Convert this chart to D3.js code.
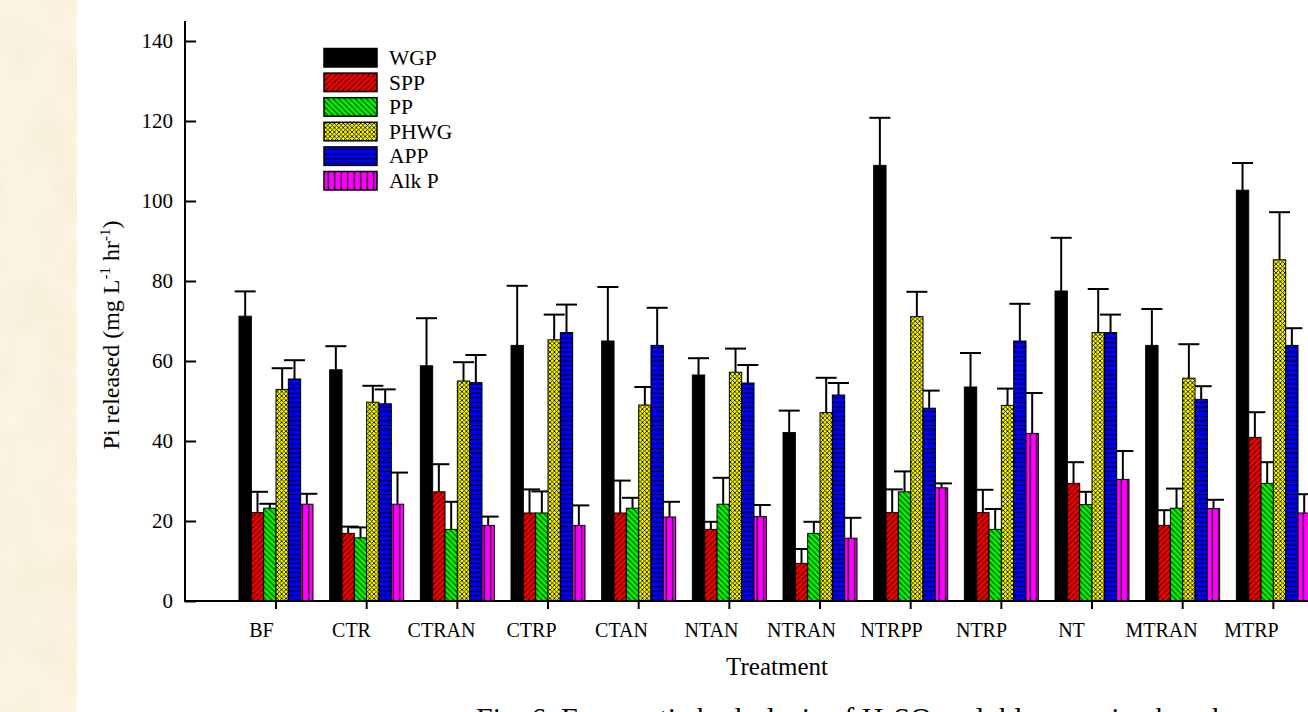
<!DOCTYPE html>
<html>
<head>
<meta charset="utf-8">
<script src="https://cdn.jsdelivr.net/npm/d3@7/dist/d3.min.js"></script>
<style>
  html, body { margin: 0; padding: 0; background: #ffffff; }
  svg { display: block; }
  text { font-family: "Liberation Serif", "Times New Roman", Times, serif; fill: #000; }
</style>
</head>
<body>
<svg id="chart" width="1308" height="712"></svg>
<script>
// Treatments on the x axis
const treatments = ["BF", "CTR", "CTRAN", "CTRP", "CTAN", "NTAN", "NTRAN", "NTRPP", "NTRP", "NT", "MTRAN", "MTRP"];

// Enzyme series
const seriesNames = ["WGP", "SPP", "PP", "PHWG", "APP", "Alk P"];

// Mean Pi released per treatment (mg L-1 hr-1)
const wgp    = [71.2, 57.8, 58.8, 63.9, 65.0, 56.5, 42.1, 108.9, 53.5, 77.5, 63.9, 102.7];
const spp    = [22.1, 16.9, 27.3, 22.0, 22.0, 17.9,  9.4,  22.1, 22.1, 29.4, 18.9,  40.9];
const pp     = [23.2, 15.8, 17.9, 22.0, 23.2, 24.2, 16.9,  27.3, 17.9, 24.1, 23.2,  29.4];
const phwg   = [52.9, 49.7, 55.0, 65.3, 49.0, 57.2, 47.1,  71.1, 48.9, 67.1, 55.7,  85.3];
const app    = [55.5, 49.3, 54.6, 67.1, 63.9, 54.5, 51.5,  48.2, 65.0, 67.1, 50.4,  63.9];
const alkP   = [24.2, 24.2, 18.9, 18.9, 21.0, 21.1, 15.7,  28.3, 41.9, 30.4, 23.1,  22.0];

// Standard errors
const wgpErr  = [6.2, 5.9, 11.9, 14.9, 13.5, 4.2, 5.5, 11.9, 8.5, 13.3, 9.1, 6.8];
const sppErr  = [5.2, 1.7,  6.9,  5.9,  8.1, 1.9, 3.6,  5.8, 5.7,  5.3, 3.8, 6.3];
const ppErr   = [1.1, 2.6,  6.9,  5.4,  2.6, 6.6, 2.9,  5.1, 5.1,  3.2, 4.9, 5.3];
const phwgErr = [5.3, 4.1,  4.7,  6.3,  4.5, 5.9, 8.7,  6.2, 4.2, 10.9, 8.5, 11.9];
const appErr  = [4.7, 3.6,  6.9,  7.0,  9.4, 4.5, 3.0,  4.4, 9.3,  4.5, 3.3, 4.3];
const alkPErr = [2.6, 7.9,  2.2,  5.0,  3.8, 2.9, 5.1,  1.1, 10.1, 7.1, 2.2, 4.7];

// Y axis ticks
const yTicks = [0, 20, 40, 60, 80, 100, 120, 140];

const seriesValues = [wgp, spp, pp, phwg, app, alkP];
const seriesErrors = [wgpErr, sppErr, ppErr, phwgErr, appErr, alkPErr];
const seriesFill = ["#000000", "url(#patSPP)", "url(#patPP)", "url(#patPHWG)", "url(#patAPP)", "url(#patALK)"];

const svg = d3.select("#chart");
const defs = svg.append("defs");

// Parchment texture for the strip along the left edge
const parch = defs.append("filter").attr("id", "parchment")
  .attr("x", 0).attr("y", 0).attr("width", "100%").attr("height", "100%");
parch.append("feTurbulence").attr("type", "fractalNoise")
  .attr("baseFrequency", "0.025 0.018").attr("numOctaves", 3).attr("seed", 7).attr("result", "noise");
parch.append("feColorMatrix").attr("in", "noise").attr("type", "matrix")
  .attr("values", "0.10 0 0 0 0.91  0.10 0 0 0 0.84  0.14 0 0 0 0.67  0 0 0 0 1");

// Hatch patterns
function hatch(id, bg, angle, size, lineW) {
  const p = defs.append("pattern").attr("id", id).attr("patternUnits", "userSpaceOnUse")
    .attr("width", size).attr("height", size)
    .attr("patternTransform", `rotate(${angle})`);
  p.append("rect").attr("width", size).attr("height", size).attr("fill", bg);
  p.append("line").attr("x1", size / 2).attr("y1", 0).attr("x2", size / 2).attr("y2", size)
    .attr("stroke", "#000").attr("stroke-width", lineW);
}
hatch("patSPP", "#ff0000", 45, 3.9, 0.95);
hatch("patPP", "#00ff00", -45, 3.9, 0.95);
hatch("patAPP", "#0000ff", 90, 4.6, 1.1);
hatch("patALK", "#ff00ff", 0, 6.5, 1.2);

const ch = defs.append("pattern").attr("id", "patPHWG").attr("patternUnits", "userSpaceOnUse")
  .attr("width", 4.4).attr("height", 4.4);
ch.append("rect").attr("width", 4.4).attr("height", 4.4).attr("fill", "#ffff00");
ch.append("path").attr("d", "M0,0L4.4,4.4M4.4,0L0,4.4").attr("stroke", "#000").attr("stroke-width", 0.85);

// Backgrounds
svg.append("rect").attr("width", 1308).attr("height", 712).attr("fill", "#ffffff");
svg.append("rect").attr("x", 0).attr("y", 0).attr("width", 77).attr("height", 712)
  .attr("filter", "url(#parchment)");

// Scales
const y = d3.scaleLinear().domain([0, 145]).range([601, 21]);
const x = d3.scaleBand().domain(treatments).range([230.67, 1318.7])
  .paddingInner(0.184).paddingOuter(0.092);
const xs = d3.scaleBand().domain(seriesNames).range([0, x.bandwidth()]);

const axisX0 = 185;

// Records for every bar
const records = [];
treatments.forEach((t, i) => {
  seriesNames.forEach((s, j) => {
    records.push({ t, s, v: seriesValues[j][i], e: seriesErrors[j][i], fill: seriesFill[j] });
  });
});
const cx = d => x(d.t) + xs(d.s) + xs.bandwidth() / 2;

// Error bars (drawn beneath the bars)
const eb = svg.append("g").attr("stroke", "#000").attr("stroke-width", 2).attr("fill", "none");
eb.selectAll("line.v").data(records).join("line").attr("class", "v")
  .attr("x1", cx).attr("x2", cx)
  .attr("y1", d => y(d.v)).attr("y2", d => y(d.v + d.e));
eb.selectAll("line.c").data(records).join("line").attr("class", "c")
  .attr("x1", d => cx(d) - 10.5).attr("x2", d => cx(d) + 10.5)
  .attr("y1", d => y(d.v + d.e)).attr("y2", d => y(d.v + d.e));

// Bars
svg.append("g").selectAll("rect").data(records).join("rect")
  .attr("x", d => x(d.t) + xs(d.s))
  .attr("y", d => y(d.v))
  .attr("width", xs.bandwidth())
  .attr("height", d => y(0) - y(d.v))
  .attr("fill", d => d.fill)
  .attr("stroke", "#000").attr("stroke-width", 1);

// Y axis: ticks point into the plot, labels on the left
const yAxis = svg.append("g").attr("transform", `translate(${axisX0},0)`)
  .call(d3.axisLeft(y).tickValues(yTicks).tickSize(-11).tickPadding(12));
yAxis.select(".domain").remove();
yAxis.selectAll(".tick line").attr("stroke", "#000").attr("stroke-width", 2);
yAxis.selectAll(".tick text").attr("font-size", 21)
  .attr("font-family", "'Liberation Serif', 'Times New Roman', serif");

// X axis; the category labels sit slightly left of their ticks
const xAxis = svg.append("g").attr("transform", `translate(0,${y(0)})`)
  .call(d3.axisBottom(x).tickSize(8).tickPadding(14));
xAxis.select(".domain").remove();
xAxis.selectAll(".tick line").attr("stroke", "#000").attr("stroke-width", 2);
xAxis.selectAll(".tick text").attr("font-size", 20)
  .attr("font-family", "'Liberation Serif', 'Times New Roman', serif")
  .attr("dx", (d, i) => -14.5 - 0.67 * i);

// Axis lines
svg.append("line").attr("x1", axisX0).attr("x2", axisX0).attr("y1", y(145)).attr("y2", y(0) + 1)
  .attr("stroke", "#000").attr("stroke-width", 2);
svg.append("line").attr("x1", axisX0 - 1).attr("x2", 1330).attr("y1", y(0)).attr("y2", y(0))
  .attr("stroke", "#000").attr("stroke-width", 2);

// Axis titles
const yTitle = svg.append("text")
  .attr("transform", `translate(119,335) rotate(-90)`)
  .attr("text-anchor", "middle").attr("font-size", 24);
yTitle.append("tspan").text("Pi released (mg L");
yTitle.append("tspan").attr("font-size", 15).attr("dy", -9).text("-1");
yTitle.append("tspan").attr("dy", 9).text(" hr");
yTitle.append("tspan").attr("font-size", 15).attr("dy", -9).text("-1");
yTitle.append("tspan").attr("dy", 9).text(")");

svg.append("text").attr("x", 777).attr("y", 675).attr("text-anchor", "middle")
  .attr("font-size", 25).text("Treatment");

// Figure caption (runs past the lower edge)
const cap = svg.append("text").attr("x", 476).attr("y", 728).attr("font-size", 30);
cap.append("tspan").text("Fig. 6. Enzymatic hydrolysis of H");
cap.append("tspan").attr("font-size", 20).attr("dy", 6).text("2");
cap.append("tspan").attr("dy", -6).text("SO");
cap.append("tspan").attr("font-size", 20).attr("dy", 6).text("4");
cap.append("tspan").attr("dy", -6).text(" soluble organic phosphorus");

// Legend
const legend = svg.append("g");
seriesNames.forEach((s, j) => {
  const ly = 48.5 + j * 24.6;
  legend.append("rect").attr("x", 324).attr("y", ly).attr("width", 53).attr("height", 18.5)
    .attr("fill", seriesFill[j]).attr("stroke", "#000").attr("stroke-width", 1.5);
  legend.append("text").attr("x", 389).attr("y", ly + 16.5).attr("font-size", 21.5).text(s);
});
</script>
</body>
</html>
